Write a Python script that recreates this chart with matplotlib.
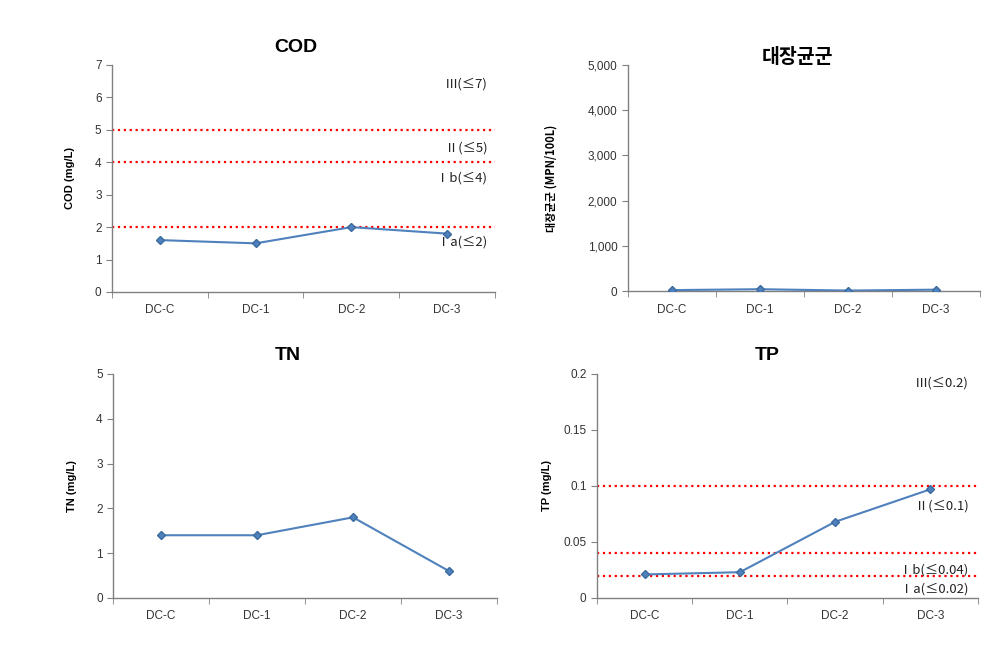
import matplotlib.pyplot as plt
import numpy as np

plt.rcParams['font.family'] = ['Liberation Sans', 'Noto Sans CJK KR', 'DejaVu Sans']

sites = ['DC-C', 'DC-1', 'DC-2', 'DC-3']
cod = [1.6, 1.5, 2.0, 1.8]
coli = [20, 40, 10, 30]
tn = [1.4, 1.4, 1.8, 0.6]
tp = [0.021, 0.023, 0.068, 0.097]

cod_limits = [5, 4, 2]
cod_labels = ['Ⅲ(≤7)', 'Ⅱ(≤5)', 'Ⅰb(≤4)', 'Ⅰa(≤2)']
cod_label_y = [6.4, 4.45, 3.5, 1.55]

tp_limits = [0.1, 0.04, 0.02]
tp_labels = ['Ⅲ(≤0.2)', 'Ⅱ(≤0.1)', 'Ⅰb(≤0.04)', 'Ⅰa(≤0.02)']
tp_label_y = [0.192, 0.082, 0.025, 0.008]

line_col = '#4F81BD'
lab_font = ['Noto Sans CJK KR', 'DejaVu Sans']

fig = plt.figure(figsize=(9.96, 6.48), dpi=100)

ax1 = fig.add_axes([0.1124, 0.5494, 0.3846, 0.3503])
ax2 = fig.add_axes([0.6305, 0.5509, 0.3535, 0.3488])
ax3 = fig.add_axes([0.1135, 0.0772, 0.3855, 0.3457])
ax4 = fig.add_axes([0.5994, 0.0772, 0.3825, 0.3457])

x = np.arange(len(sites))


def style(ax, ymax, step, fmt=None):
    ax.set_xlim(-0.5, len(sites) - 0.5)
    ax.set_ylim(0, ymax)
    ax.set_yticks(np.arange(0, ymax + step / 2, step))
    if fmt is not None:
        ax.set_yticklabels([fmt(v) for v in ax.get_yticks()])
    ax.set_xticks(x)
    ax.set_xticklabels(sites, fontsize=8.5, color='#333333')
    ax.set_xticks(np.arange(-0.5, len(sites), 1), minor=True)
    ax.tick_params(axis='x', which='major', length=0, pad=9)
    ax.tick_params(axis='x', which='minor', length=4, color='#808080', direction='out')
    ax.tick_params(axis='y', length=4, color='#808080', labelsize=8.5, labelcolor='#333333')
    for s in ['top', 'right']:
        ax.spines[s].set_visible(False)
    for s in ['left', 'bottom']:
        ax.spines[s].set_color('#808080')
        ax.spines[s].set_linewidth(1.0)


def plot_series(ax, vals):
    ax.plot(x, vals, color=line_col, lw=1.5, marker='D', ms=4.5,
            markerfacecolor=line_col, markeredgecolor='#3A6A9E', zorder=3)


# COD
style(ax1, 7, 1)
for v in cod_limits:
    ax1.axhline(v, color='red', ls=':', lw=1.6, zorder=2)
plot_series(ax1, cod)
for t, yv in zip(cod_labels, cod_label_y):
    ax1.text(0.98, yv, t, transform=ax1.get_yaxis_transform(), ha='right',
             va='center', fontsize=9.5, family=lab_font, fontweight='medium', color='#222222')
ax1.set_ylabel('COD (mg/L)', fontsize=8, fontweight='bold', labelpad=14)
fig.text(0.297, 0.927, 'COD', ha='center', va='center', fontsize=14, fontweight='bold')

# coliform
style(ax2, 5000, 1000, fmt=lambda v: f'{int(v):,}')
plot_series(ax2, coli)
ax2.set_ylabel('대장균군 (MPN/100L)', fontsize=8, fontweight='bold', family=lab_font, labelpad=22)
fig.text(0.801, 0.912, '대장균군', ha='center', va='center', fontsize=14,
         fontweight='bold', family=lab_font)

# TN
style(ax3, 5, 1)
plot_series(ax3, tn)
ax3.set_ylabel('TN (mg/L)', fontsize=8, fontweight='bold', labelpad=14)
fig.text(0.289, 0.452, 'TN', ha='center', va='center', fontsize=14, fontweight='bold')

# TP
style(ax4, 0.2, 0.05, fmt=lambda v: f'{v:g}')
for v in tp_limits:
    ax4.axhline(v, color='red', ls=':', lw=1.6, zorder=2)
plot_series(ax4, tp)
for t, yv in zip(tp_labels, tp_label_y):
    ax4.text(0.975, yv, t, transform=ax4.get_yaxis_transform(), ha='right',
             va='center', fontsize=9.5, family=lab_font, fontweight='medium', color='#222222')
ax4.set_ylabel('TP (mg/L)', fontsize=8, fontweight='bold', labelpad=8)
fig.text(0.77, 0.452, 'TP', ha='center', va='center', fontsize=14, fontweight='bold')

fig.savefig('out.png', dpi=100)
